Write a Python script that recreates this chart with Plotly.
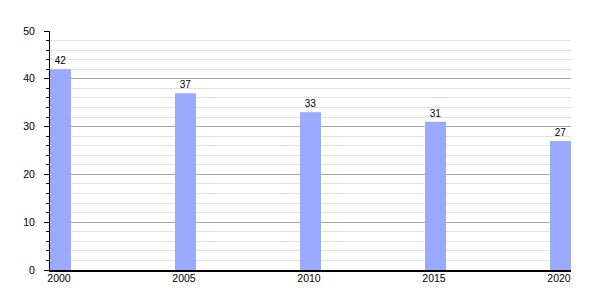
import plotly.graph_objects as go

years = [2000, 2005, 2010, 2015, 2020]
values = [42, 37, 33, 31, 27]
labels = [str(y) for y in years]
bar_width = 0.84

fig = go.Figure()
fig.add_trace(go.Bar(
    x=years, y=values, width=bar_width, offset=0,
    marker=dict(color="#99aaff", line=dict(width=0)),
    text=[str(v) for v in values], textposition="outside",
    textfont=dict(family="Liberation Sans, Arial", size=10, color="black"),
    cliponaxis=False,
))

fig.update_layout(
    width=600, height=300,
    margin=dict(l=50, r=29, t=31, b=30),
    plot_bgcolor="white", paper_bgcolor="white",
    showlegend=False,
    font=dict(family="Liberation Sans, Arial", size=11, color="black"),
    xaxis=dict(
        range=[2000, 2020.84],
        tickvals=[y + 0.36 for y in years], ticktext=labels,
        showgrid=False, zeroline=False,
        showline=True, linecolor="black", linewidth=1.5,
        ticks="", tickfont=dict(size=10.5), ticklabelstandoff=-2,
    ),
    yaxis=dict(
        range=[0, 50], dtick=10, tick0=0,
        showgrid=True, gridcolor="#a8a8a8", gridwidth=1,
        zeroline=False,
        showline=True, linecolor="black", linewidth=1,
        ticks="outside", ticklen=5, tickcolor="black", tickwidth=1,
        tickfont=dict(size=10.5), ticklabelstandoff=7,
        minor=dict(dtick=2, tick0=0, showgrid=True, gridcolor="#e2e2e2",
                   ticks="outside", ticklen=3, tickcolor="black", tickwidth=1),
    ),
)

fig.write_html("out.html")
